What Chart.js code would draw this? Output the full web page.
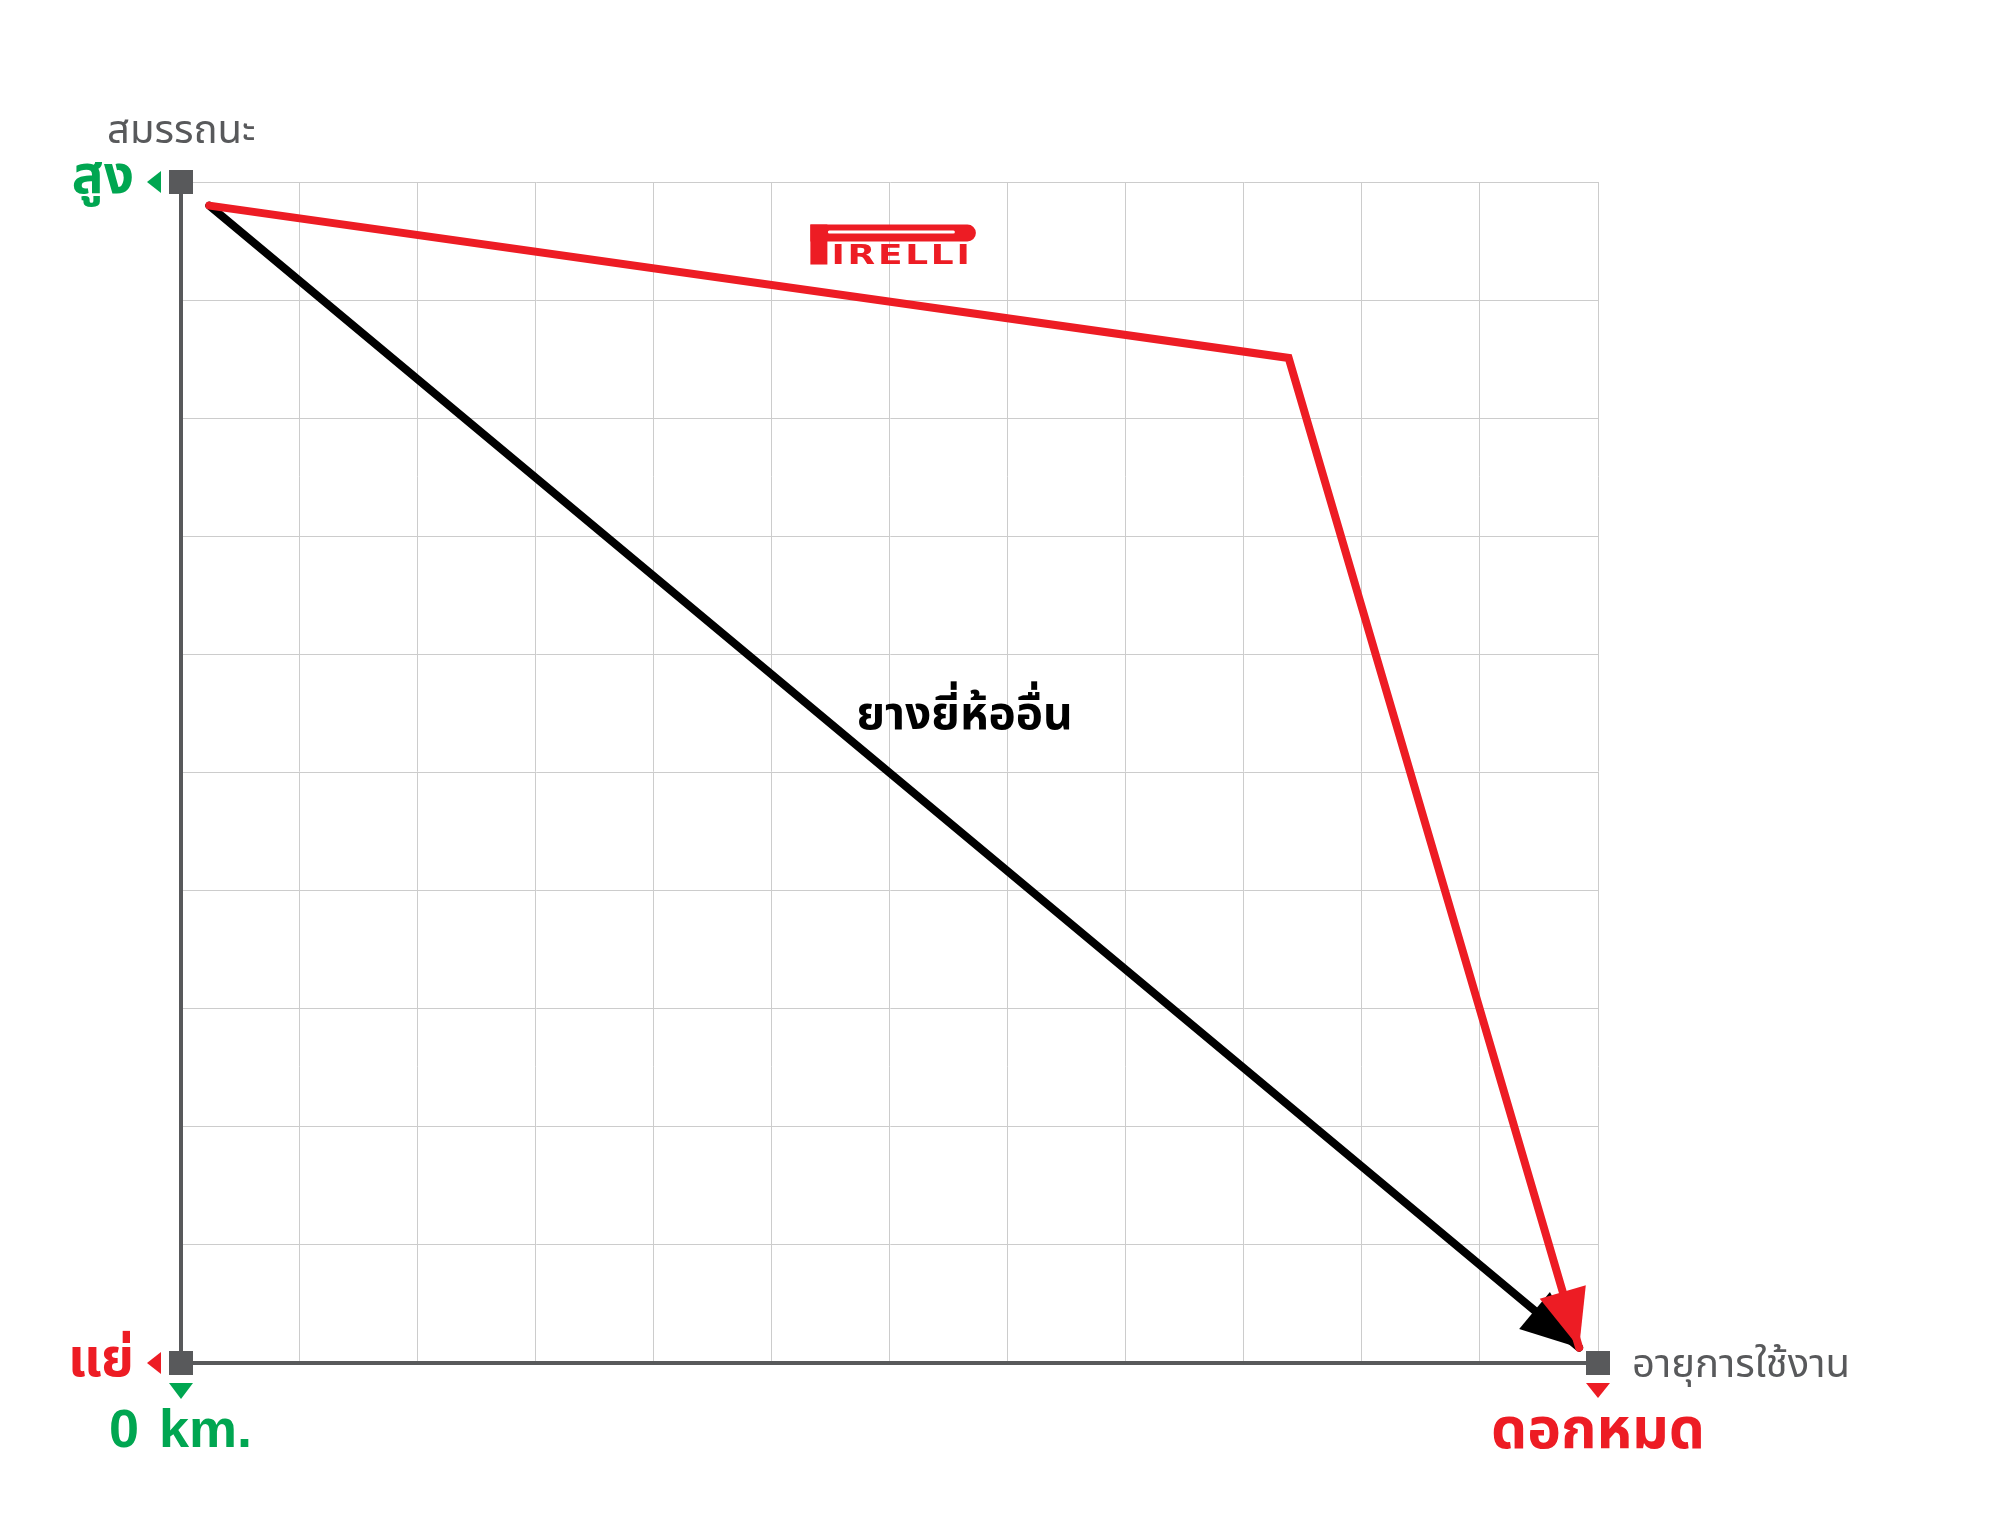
<!DOCTYPE html>
<html>
<head>
<meta charset="utf-8">
<script src="https://cdn.jsdelivr.net/npm/chart.js@4/dist/chart.umd.min.js"></script>
<style>
  html, body { margin: 0; padding: 0; background: #fff; }
  canvas { display: block; }
</style>
</head>
<body>
<canvas id="chart" width="2009" height="1536"></canvas>
<script>
// values (x: usage grid units 0-12, y: performance 0-10)
const seriesNames = ['PIRELLI', 'ยางยี่ห้ออื่น'];
const pirelliX = [0.24, 9.38, 11.84];
const pirelliY = [9.80, 8.51, 0.13];
const otherX = [0.24, 11.84];
const otherY = [9.80, 0.13];
const cornerX = [0, 0, 12];
const cornerY = [10, 0, 0];
const yTitle = 'สมรรถนะ';
const yHigh = 'สูง';
const yLow = 'แย่';
const xTitle = 'อายุการใช้งาน';
const xStart = '0 km.';
const xEnd = 'ดอกหมด';

const RED = '#ED1C24';
const GREEN = '#00A651';
const GRAY = '#58595B';
const THAI = "'Noto Sans Thai', 'Noto Sans Thai UI', 'Noto Sans', 'DejaVu Sans', sans-serif";

const toPoints = (xs, ys) => xs.map((x, i) => ({ x: x, y: ys[i] }));

function tri(ctx, pts, color) {
    ctx.beginPath();
    ctx.moveTo(pts[0][0], pts[0][1]);
    ctx.lineTo(pts[1][0], pts[1][1]);
    ctx.lineTo(pts[2][0], pts[2][1]);
    ctx.closePath();
    ctx.fillStyle = color;
    ctx.fill();
}

// arrow head at the last point of the line datasets
const arrowHeads = {
    id: 'arrowHeads',
    afterDatasetDraw(chart, args) {
        const ds = chart.data.datasets[args.index];
        if (!ds.arrow) return;
        const pts = args.meta.data;
        const a = pts[pts.length - 2], b = pts[pts.length - 1];
        const dx = b.x - a.x, dy = b.y - a.y;
        const len = Math.hypot(dx, dy);
        const ux = dx / len, uy = dy / len;
        const L = 58, W = 24;
        const bx = b.x - ux * L, by = b.y - uy * L;
        tri(chart.ctx, [[b.x, b.y], [bx - uy * W, by + ux * W], [bx + uy * W, by - ux * W]], ds.borderColor);
    }
};

// axis end labels, markers, line label and logo
const labels = {
    id: 'labels',
    afterDraw(chart) {
        const ctx = chart.ctx;
        const xs = chart.scales.x, ys = chart.scales.y;
        const left = xs.getPixelForValue(0), right = xs.getPixelForValue(12);
        const top = ys.getPixelForValue(10), bottom = ys.getPixelForValue(0);
        ctx.save();

        // small triangle markers
        tri(ctx, [[left - 34, top], [left - 20, top - 11], [left - 20, top + 11]], GREEN);
        tri(ctx, [[left - 34, bottom], [left - 20, bottom - 11], [left - 20, bottom + 11]], RED);
        tri(ctx, [[left - 12, bottom + 20], [left + 12, bottom + 20], [left, bottom + 36]], GREEN);
        tri(ctx, [[right - 12, bottom + 20], [right + 12, bottom + 20], [right, bottom + 35]], RED);

        ctx.textBaseline = 'alphabetic';
        ctx.fillStyle = GRAY;
        ctx.textAlign = 'left';
        ctx.font = '40px ' + THAI;
        ctx.fillText(yTitle, left - 74, top - 39);
        ctx.fillText(xTitle, right + 34, bottom + 14);

        ctx.font = 'bold 53px ' + THAI;
        ctx.textAlign = 'right';
        ctx.fillStyle = GREEN;
        ctx.fillText(yHigh, left - 47, top + 11);
        ctx.fillStyle = RED;
        ctx.fillText(yLow, left - 47, bottom + 13);

        ctx.textAlign = 'center';
        ctx.font = 'bold 57px ' + THAI;
        ctx.fillText(xEnd, right, bottom + 85);

        ctx.fillStyle = GREEN;
        ctx.font = "bold 54px 'Liberation Sans', Arial, sans-serif";
        ctx.textAlign = 'left';
        ctx.wordSpacing = '5px';
        ctx.fillText(xStart, left - 72, bottom + 84);
        ctx.wordSpacing = '0px';

        // series label for the other brands
        ctx.fillStyle = '#000';
        ctx.font = 'bold 46px ' + THAI;
        ctx.fillText(seriesNames[1], xs.getPixelForValue(5.72), ys.getPixelForValue(5.37));

        // pirelli logo
        const lx = xs.getPixelForValue(5.33), ly = ys.getPixelForValue(9.64);
        ctx.fillStyle = RED;
        ctx.fillRect(lx, ly, 17, 40);
        ctx.beginPath();
        ctx.moveTo(lx, ly);
        ctx.lineTo(lx + 157, ly);
        ctx.arc(lx + 157, ly + 8.5, 8.5, -Math.PI / 2, Math.PI / 2);
        ctx.lineTo(lx, ly + 17);
        ctx.closePath();
        ctx.fill();
        ctx.strokeStyle = '#fff';
        ctx.lineWidth = 3;
        ctx.lineCap = 'round';
        ctx.beginPath();
        ctx.moveTo(lx + 19, ly + 7.5);
        ctx.lineTo(lx + 143, ly + 7.5);
        ctx.stroke();
        ctx.translate(lx + 21, ly + 39);
        ctx.scale(1.38, 1);
        ctx.font = "bold 26px 'DejaVu Sans', sans-serif";
        ctx.letterSpacing = '2px';
        ctx.fillText(seriesNames[0].slice(1), 0, 0);
        ctx.restore();
    }
};

new Chart(document.querySelector('#chart'), {
    type: 'scatter',
    data: {
        datasets: [
            {
                label: 'corners',
                data: toPoints(cornerX, cornerY),
                pointStyle: 'rect',
                pointRadius: 17,
                pointHoverRadius: 17,
                backgroundColor: GRAY,
                borderWidth: 0,
                showLine: false,
                clip: false,
                order: 0,
            },
            {
                label: seriesNames[0],
                data: toPoints(pirelliX, pirelliY),
                showLine: true,
                borderColor: RED,
                borderWidth: 8,
                borderCapStyle: 'round',
                borderJoinStyle: 'miter',
                pointRadius: 0,
                tension: 0,
                clip: false,
                arrow: true,
                order: 1,
            },
            {
                label: seriesNames[1],
                data: toPoints(otherX, otherY),
                showLine: true,
                borderColor: '#000',
                borderWidth: 8,
                borderCapStyle: 'round',
                pointRadius: 0,
                tension: 0,
                clip: false,
                arrow: true,
                order: 2,
            },
        ],
    },
    options: {
        responsive: false,
        animation: false,
        devicePixelRatio: 1,
        layout: { padding: { left: 181, top: 182, right: 411, bottom: 173 } },
        plugins: {
            legend: { display: false },
            tooltip: { enabled: false },
        },
        scales: {
            x: {
                type: 'linear',
                min: 0,
                max: 12,
                ticks: { display: false, stepSize: 1 },
                grid: { color: '#CCCCCC', lineWidth: 1, drawTicks: false },
                border: { display: true, color: GRAY, width: 4 },
            },
            y: {
                type: 'linear',
                min: 0,
                max: 10,
                ticks: { display: false, stepSize: 1 },
                grid: { color: '#CCCCCC', lineWidth: 1, drawTicks: false },
                border: { display: true, color: GRAY, width: 4 },
            },
        },
    },
    plugins: [arrowHeads, labels],
});
</script>
</body>
</html>
